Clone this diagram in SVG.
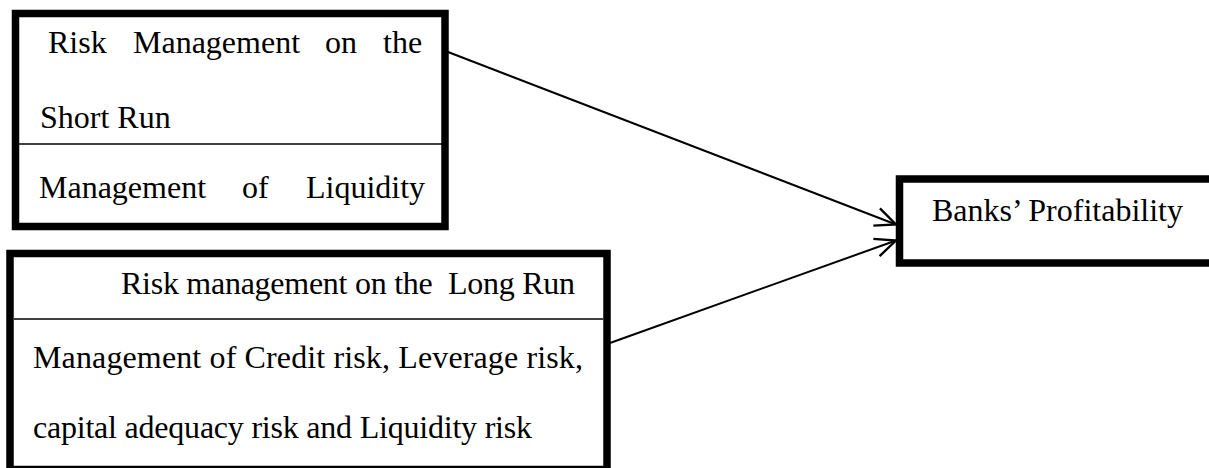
<svg xmlns="http://www.w3.org/2000/svg" width="1209" height="468" viewBox="0 0 1209 468">
<style>
text{font-family:"Liberation Serif","Times New Roman",serif;font-size:32px;fill:#000}
.box{fill:#fff;stroke:#000;stroke-width:7.5}
.div{stroke:#000;stroke-width:1.5}
.conn{stroke:#000;stroke-width:2;fill:none}
</style>
<defs>
<marker id="arr" markerUnits="userSpaceOnUse" markerWidth="30" markerHeight="30" refX="0" refY="0" viewBox="-22 -12 26 24" orient="auto" overflow="visible">
<path d="M -18 -8 L 0 0 L -18 8" fill="none" stroke="#000" stroke-width="2"/>
</marker>
</defs>
<rect width="1209" height="468" fill="#fff"/>
<g id="connectors">
<line class="conn" x1="448" y1="52" x2="896" y2="224.5" marker-end="url(#arr)"/>
<line class="conn" x1="610" y1="343" x2="896" y2="240.5" marker-end="url(#arr)"/>
</g>
<g id="short-run">
<rect class="box" x="15.5" y="13.5" width="429.5" height="213"/>
<line class="div" x1="19" y1="144" x2="442" y2="144"/>
<text y="53"><tspan x="48">Risk</tspan><tspan x="133">Management</tspan><tspan x="325">on</tspan><tspan x="383">the</tspan></text>
<text x="40" y="128">Short Run</text>
<text y="198"><tspan x="39">Management</tspan><tspan x="242">of</tspan><tspan x="306">Liquidity</tspan></text>
</g>
<g id="long-run">
<rect class="box" x="10" y="253.5" width="597" height="216"/>
<line class="div" x1="14" y1="319" x2="603" y2="319"/>
<text x="121" y="294" textLength="454" lengthAdjust="spacing" xml:space="preserve">Risk management on the  Long Run</text>
<text x="33" y="368" textLength="550" lengthAdjust="spacing">Management of Credit risk, Leverage risk,</text>
<text x="33" y="438" textLength="499" lengthAdjust="spacing">capital adequacy risk and Liquidity risk</text>
</g>
<g id="profitability">
<rect class="box" x="899.5" y="179" width="320" height="84"/>
<text x="932" y="221">Banks’ Profitability</text>
</g>
</svg>
